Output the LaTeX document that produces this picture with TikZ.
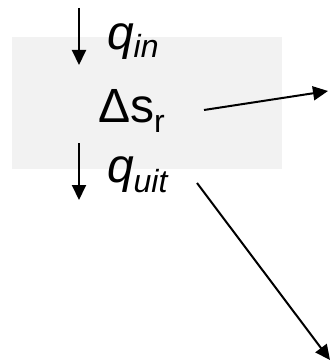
\documentclass[tikz,border=0pt]{standalone}
\usepackage{fontspec}
\setmainfont{Liberation Sans}
\usetikzlibrary{arrows.meta,positioning}
\definecolor{box-grey}{HTML}{F2F2F2}
\newcommand{\subtxt}[1]{\raisebox{-10pt}{\fontsize{32}{38}\selectfont #1}}

\begin{document}
\begin{tikzpicture}[x=1pt, y=1pt, line width=2pt, >={Triangle[length=15pt,width=14pt]}]
    \useasboundingbox (0,0) rectangle (330,-361);
    \fill[box-grey] (12,-37) rectangle (282,-169);
    \tikzset{lbl/.style={anchor=base west, inner sep=0pt, font=\fontsize{48}{58}\selectfont}}
    \node[lbl] (qin) at (106,-50) {\textit{q}\raisebox{-8pt}{\fontsize{32}{38}\selectfont\textit{in}}};
    \node[lbl] (ds) at (97,-122) {Δs\subtxt{r}};
    \node[lbl] (quit) at (106,-182) {\textit{q}\subtxt{\textit{uit}}};
    \coordinate (inTop) at (79,-8);
    \coordinate (inEnd) at (79,-65);
    \coordinate (uitTop) at (79,-143);
    \coordinate (uitEnd) at (79,-200);
    \coordinate (dsStart) at (204,-110);
    \coordinate (dsEnd) at (328,-91);
    \coordinate (uitStart) at (197,-183);
    \coordinate (uitFar) at (330,-360);
    \draw[->] (inTop) -- (inEnd);
    \draw[->] (uitTop) -- (uitEnd);
    \draw[->] (dsStart) -- (dsEnd);
    \draw[->] (uitStart) -- (uitFar);
\end{tikzpicture}
\end{document}
